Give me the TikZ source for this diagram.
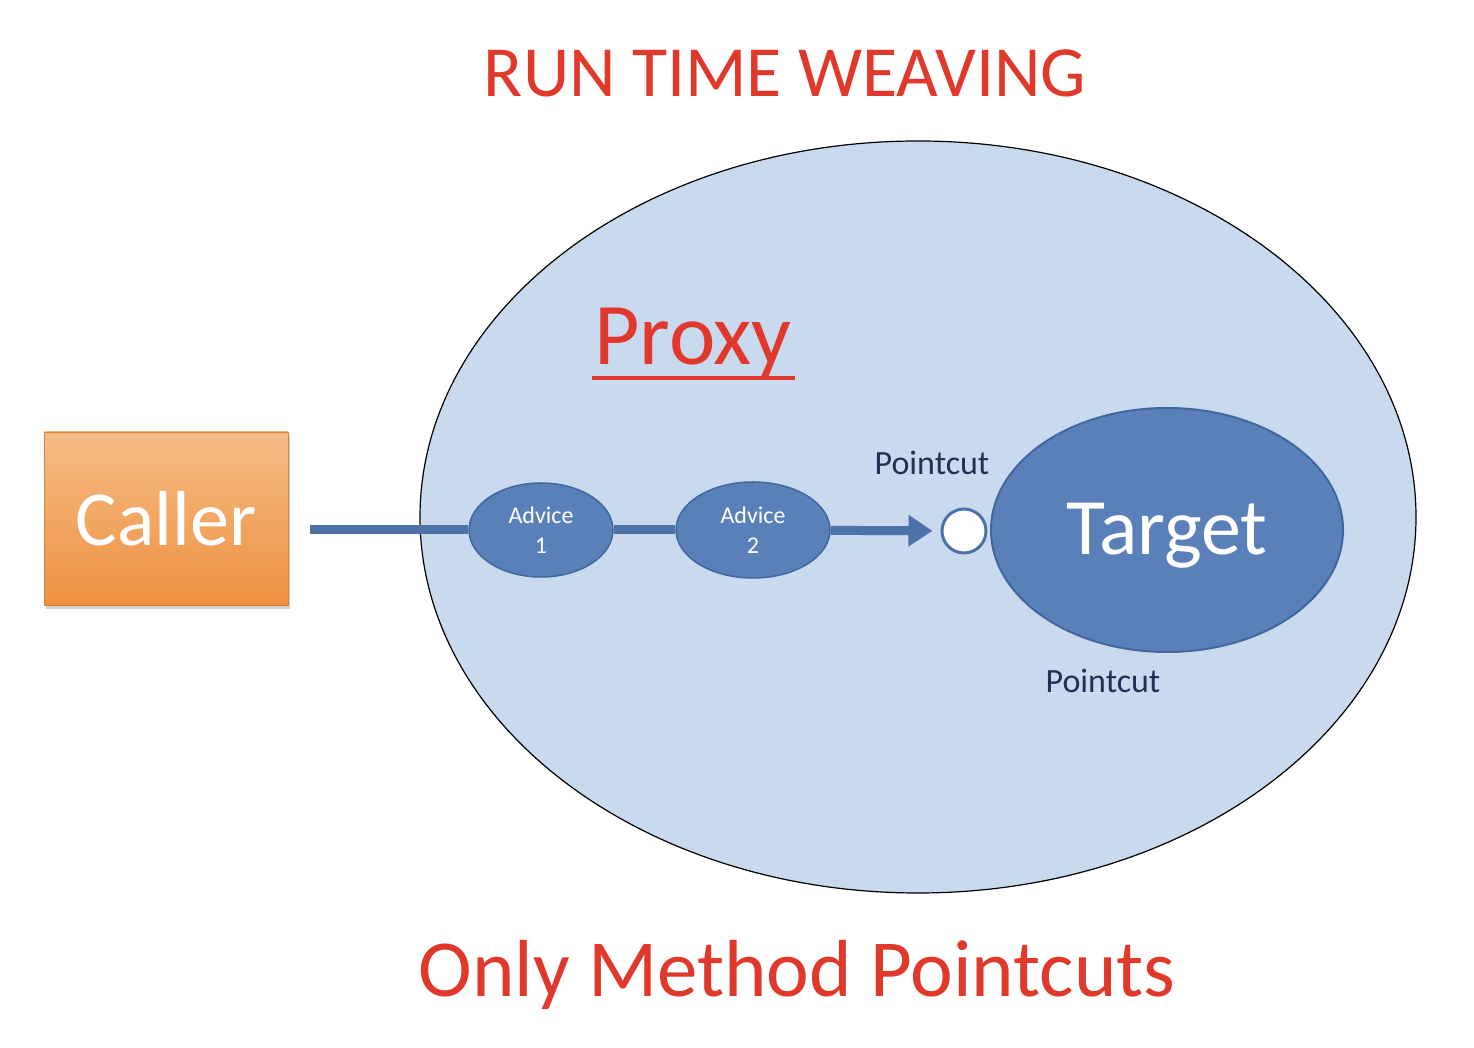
\documentclass[tikz,border=0pt]{standalone}
\usepackage{fontspec}
\setmainfont{Carlito}
\usetikzlibrary{shapes.geometric,arrows.meta,shadows}
\definecolor{titlered}{HTML}{E0382B}
\definecolor{proxyfill}{HTML}{C9D9EE}
\definecolor{bluefill}{HTML}{5A80BA}
\definecolor{blueedge}{HTML}{42669E}
\definecolor{flowc}{HTML}{4D72AA}
\definecolor{navy}{HTML}{1F3454}
\definecolor{orangetop}{HTML}{F5BC86}
\definecolor{orangebot}{HTML}{EE9140}
\tikzset{
  bigtext/.style={text=titlered, inner sep=0pt},
  advice/.style={ellipse, fill=bluefill, draw=blueedge, line width=1.5pt, text=white, align=center, inner sep=0pt, font=\fontsize{24}{30}\selectfont},
  pclabel/.style={text=navy, inner sep=0pt, font=\fontsize{34}{36}\selectfont},
  flow/.style={draw=flowc, line width=9pt},
}
\begin{document}
\begin{tikzpicture}[x=1pt,y=1pt]
\useasboundingbox (0,0) rectangle (1474,1048);
\fill[white] (0,0) rectangle (1474,1048);
% title
\node[bigtext, font=\fontsize{72}{76}\selectfont] (title) at (785,975) {RUN TIME WEAVING};
% proxy
\node[ellipse, fill=proxyfill, draw=black, line width=1.2pt, minimum width=996pt, minimum height=752pt, inner sep=0pt] (proxyell) at (918,531) {};
\node[bigtext, anchor=base, font=\fontsize{88}{90}\selectfont] (proxy) at (693,683) {Proxy};
\draw[titlered, line width=4pt] ([xshift=-2pt,yshift=-13pt]proxy.base west) -- ([xshift=3pt,yshift=-13pt]proxy.base east);
% caller
\node[rectangle, minimum width=244pt, minimum height=173pt, top color=orangetop, bottom color=orangebot, draw=orangebot!90!black, line width=0.6pt, text=white, font=\fontsize{78}{80}\selectfont, drop shadow={shadow xshift=2pt, shadow yshift=-4pt, opacity=0.35}] (caller) at (166,529.5) {Caller};
% chain
\coordinate (start) at (310,518);
\node[advice, minimum width=144pt, minimum height=94pt] (adv1) at (541,518) {Advice\\1};
\node[advice, minimum width=154pt, minimum height=96pt] (adv2) at (753,518) {Advice\\2};
\node[circle, fill=white, draw=flowc, line width=3pt, minimum size=44pt, inner sep=0pt] (dot) at (964,517) {};
\node[ellipse, fill=bluefill, draw=blueedge, line width=2pt, minimum width=352pt, minimum height=244pt, inner sep=0pt, text=white, text height=65pt, text depth=16pt, font=\fontsize{80}{84}\selectfont] (target) at (1167,518) {Target};
\draw[flow] (start) -- (adv1);
\draw[flow] (adv1) -- (adv2);
\draw[flow, -{Triangle[length=24pt,width=30pt]}, shorten >=8pt] (adv2) -- (dot);
% labels
\node[pclabel] (pc1) at (932,585) {Pointcut};
\node[pclabel] (pc2) at (1103,367) {Pointcut};
\node[bigtext, font=\fontsize{81}{84}\selectfont] (bottom) at (797,73) {Only Method Pointcuts};
\end{tikzpicture}
\end{document}
